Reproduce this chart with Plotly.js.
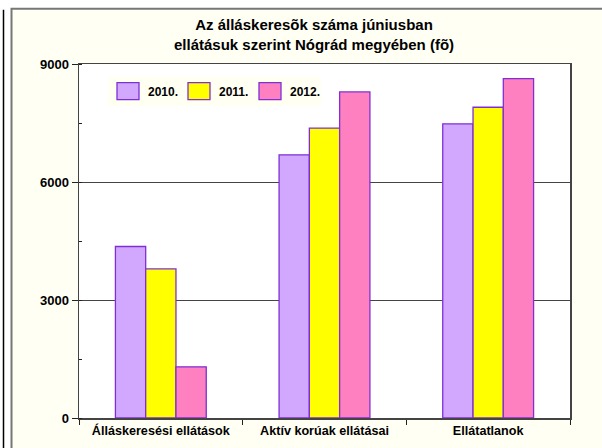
<!DOCTYPE html>
<html>
<head>
<meta charset="utf-8">
<script src="https://cdn.plot.ly/plotly-3.0.1.min.js"></script>
<style>html,body{margin:0;padding:0;background:#fff;}#chart{width:602px;height:448px;}</style>
</head>
<body>
<div id="chart"></div>
<script>
const categories = ['Álláskeresési ellátások', 'Aktív korúak ellátásai', 'Ellátatlanok'];
const seriesNames = ['2010.', '2011.', '2012.'];
const values2010 = [4360, 6690, 7480];
const values2011 = [3790, 7370, 7900];
const values2012 = [1300, 8290, 8630];
const yTickVals = [0, 3000, 6000, 9000];
const titleLine1 = 'Az álláskeresõk száma júniusban';
const titleLine2 = 'ellátásuk szerint Nógrád megyében (fõ)';

const fillColors = ['#D2A8FF', '#FFFF00', '#FF80C0'];
const edgeColor = '#7F2FD5';
const FONT = 'Liberation Sans, Arial, Helvetica, sans-serif';

// plot area geometry in pixels
const PL = 79, PR = 570, PT = 64.3, PB = 418.3;
const PW = PR - PL, PH = PB - PT;
const px = v => (v - PL) / PW;
const py = v => (PB - v) / PH;

const allValues = [values2010, values2011, values2012];
const traces = allValues.map((vals, i) => ({
  type: 'bar',
  name: seriesNames[i],
  x: categories,
  y: vals,
  marker: {color: fillColors[i], line: {color: edgeColor, width: 1.3}},
  hoverinfo: 'skip'
}));

const layout = {
  width: 602, height: 448,
  margin: {l: PL, r: 602 - PR, t: PT, b: 448 - PB, pad: 0},
  paper_bgcolor: '#ffffff',
  plot_bgcolor: '#ffffff',
  font: {family: FONT, size: 12, color: '#000', weight: 'bold'},
  barmode: 'group',
  bargap: 0.445,
  bargroupgap: 0,
  showlegend: true,
  title: {
    text: titleLine1,
    font: {family: FONT, size: 15, color: '#000', weight: 'bold'},
    xref: 'container', x: 314 / 602, xanchor: 'center',
    yref: 'container', y: 1 - 25 / 448, yanchor: 'middle'
  },
  annotations: [{
    text: titleLine2, showarrow: false,
    xref: 'paper', yref: 'paper', x: px(314), y: py(45),
    xanchor: 'center', yanchor: 'middle',
    font: {family: FONT, size: 15, color: '#000', weight: 'bold'}
  }],
  legend: {
    orientation: 'h',
    x: px(108), y: py(77), xanchor: 'left', yanchor: 'top',
    bgcolor: '#FFFFF2', borderwidth: 0,
    font: {family: FONT, size: 12, color: '#000', weight: 'bold'},
    entrywidth: 26, entrywidthmode: 'pixels',
    traceorder: 'normal'
  },
  xaxis: {
    type: 'category',
    showgrid: false,
    showline: true, linecolor: '#444', linewidth: 1.5, mirror: true,
    ticks: 'outside', tickson: 'boundaries', ticklen: 5, tickcolor: '#222', tickwidth: 1,
    tickfont: {family: FONT, size: 12.6, color: '#000', weight: 'bold'},
    fixedrange: true
  },
  yaxis: {
    range: [0, 9000],
    tickvals: yTickVals,
    ticktext: yTickVals.map(String),
    showgrid: true, gridcolor: '#444', gridwidth: 1,
    zeroline: false,
    showline: true, linecolor: '#444', linewidth: 1.5, mirror: true,
    ticks: 'outside', ticklen: 6, tickcolor: '#222', tickwidth: 1,
    minor: {dtick: 1500, ticks: 'inside', ticklen: 3, tickcolor: '#222', showgrid: false},
    tickfont: {family: FONT, size: 13, color: '#000', weight: 'bold'},
    fixedrange: true
  },
  shapes: [
    {type: 'rect', layer: 'below', xref: 'paper', yref: 'paper',
     x0: px(11.5), x1: 1.2, y0: -0.3, y1: py(9),
     fillcolor: '#FFFFF3', line: {color: '#777', width: 2}},
    {type: 'rect', layer: 'below', xref: 'paper', yref: 'paper',
     x0: 0, x1: 1, y0: 0, y1: 1, fillcolor: '#ffffff', line: {width: 0}},
    {type: 'line', layer: 'below', xref: 'paper', yref: 'paper',
     x0: px(3.5), x1: px(3.5), y0: -0.3, y1: py(10),
     line: {color: '#000', width: 1.5}}
  ]
};

Plotly.newPlot('chart', traces, layout, {staticPlot: true, displayModeBar: false}).then(() => {
  document.querySelectorAll('.legend .legendpoints path').forEach(p => {
    p.setAttribute('d', 'M11,8.5H-11V-8.5H11Z');
  });
});
</script>
</body>
</html>
